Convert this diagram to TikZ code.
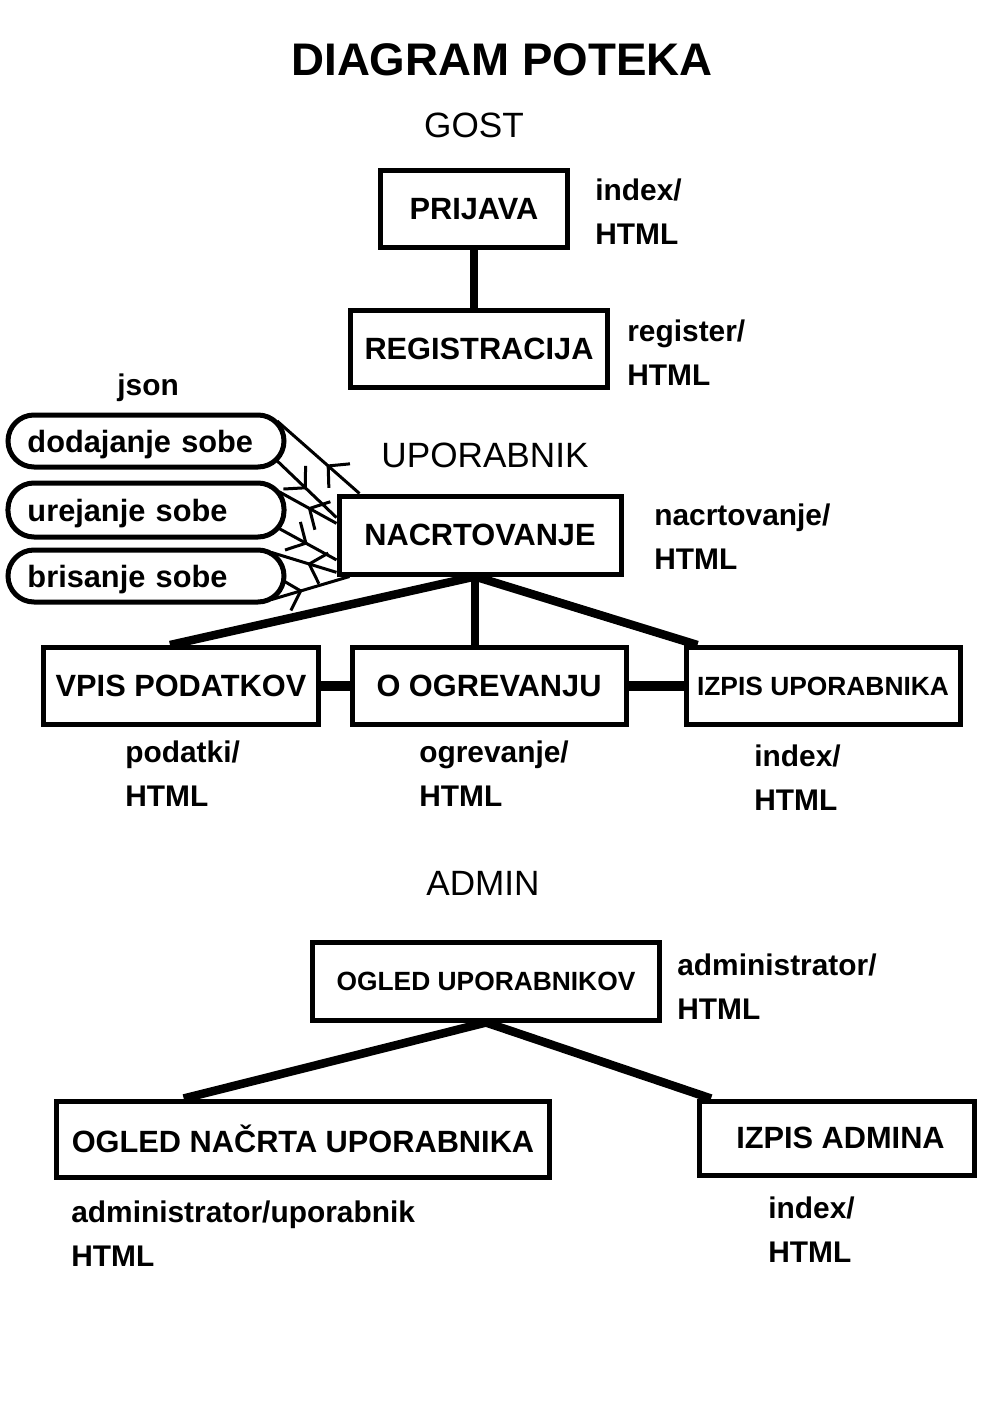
\documentclass[tikz,border=0pt]{standalone}
\usepackage{fontspec}
\setmainfont{Liberation Sans}
\usetikzlibrary{arrows.meta,calc,decorations.markings}

\begin{document}
\begin{tikzpicture}[
  x=0.2mm, y=-0.2mm,
  page/.style={font=\fontsize{26}{30}\selectfont\bfseries},
  role/.style={font=\fontsize{20}{24}\selectfont},
  screen/.style={draw, line width=1mm, minimum height=15.4mm, inner sep=0pt,
    font=\fontsize{17.5}{21}\selectfont\bfseries},
  smallscreen/.style={screen, font=\fontsize{15}{18}\selectfont\bfseries},
  action/.style={draw, line width=1mm, rounded corners=5.2mm, minimum height=10.4mm,
    inner xsep=3.9mm, inner ysep=0pt, text width=47.4mm, align=left, text depth=0pt,
    font=\fontsize{17.5}{21}\selectfont\bfseries},
  route/.style={anchor=north west, inner sep=0pt, align=left,
    font=\fontsize{17}{25.5}\selectfont\bfseries},
  link/.style={line width=1.7mm},
  bridge/.style={line width=2.1mm},
  call/.style={line width=0.6mm, postaction={decorate}, decoration={markings,
    mark=at position #1 with {\arrow{Straight Barb[length=3mm, width=6.4mm, line width=0.6mm]}}}}
]
\useasboundingbox (0,0) rectangle (1000,1417);

\node[page] (title) at (502,60) {DIAGRAM POTEKA};

% gost
\node[role] (gost) at (474,125) {GOST};
\node[screen, minimum width=37.4mm] (prijava) at (474,209) {PRIJAVA};
\node[screen, minimum width=51.4mm] (registracija) at (479,349) {REGISTRACIJA};
\node[route] (prijavaurl) at (595,178) {index/\\HTML};
\node[route] (registerurl) at (627,319) {register/\\HTML};
\draw[link] (prijava.south) -- (prijava.south |- registracija.north);

% uporabnik
\node[role] (uporabnik) at (485,455) {UPORABNIK};
\node[screen, minimum width=56.4mm, minimum height=15.6mm] (nacrt) at (480,535) {NACRTOVANJE};
\node[route] (nacrturl) at (654,503) {nacrtovanje/\\HTML};

\node[route] (json) at (117,373) {json};
\node[action, minimum height=10.4mm] (dodaj) at (146,441) {dodajanje sobe};
\node[action, minimum height=10.8mm] (uredi) at (146,510) {urejanje sobe};
\node[action, minimum height=10.4mm] (brisi) at (146,576) {brisanje sobe};

\draw[call=0.4] ([xshift=4.6mm]nacrt.north west) -- ($(dodaj.east)+(-5.2mm,0)+(50:5.2mm)$);
\draw[call=0.5] ($(dodaj.east)+(-5.2mm,0)+(-50:5.2mm)$) -- ($(nacrt.north west)!0.29!(nacrt.south west)$);
\draw[call=0.5] ($(nacrt.north west)!0.36!(nacrt.south west)$) -- ($(uredi.east)+(-5.2mm,0)+(45:5.2mm)$);
\draw[call=0.5] ($(uredi.east)+(-5.2mm,0)+(-45:5.2mm)$) -- ($(nacrt.north west)!0.8!(nacrt.south west)$);
\draw[call=0.45] ($(nacrt.north west)!0.95!(nacrt.south west)$) -- ($(brisi.east)+(-5.2mm,0)+(65:5.2mm)$);
\draw[call=0.4] ($(brisi.east)+(-5.2mm,0)+(-65:5.2mm)$) -- ([xshift=2.6mm]nacrt.south west);

\node[screen, minimum width=55mm] (vpis) at (181,686) {VPIS PODATKOV};
\node[screen, minimum width=54.8mm] (ogrevanje) at (489,686) {O OGREVANJU};
\node[smallscreen, minimum width=54.8mm] (izpisu) at (823,686) {IZPIS UPORABNIKA};
\node[route] (vpisurl) at (125,740) {podatki/\\HTML};
\node[route] (ogrevanjeurl) at (419,740) {ogrevanje/\\HTML};
\node[route] (izpisuurl) at (754,744) {index/\\HTML};

\draw[link] ([xshift=-1mm]nacrt.south) -- ([xshift=-2.2mm]vpis.north);
\draw[link] ([xshift=-1mm]nacrt.south) -- ([xshift=-1mm]nacrt.south |- ogrevanje.north);
\draw[link] ([xshift=-1mm]nacrt.south) -- ($(izpisu.north west)!0.05!(izpisu.north east)$);
\draw[bridge] (vpis.east) -- (ogrevanje.west);
\draw[bridge] (ogrevanje.east) -- (izpisu.west);

% admin
\node[role] (admin) at (483,883) {ADMIN};
\node[smallscreen, minimum width=69.4mm, minimum height=15.6mm] (ogled) at (486,981) {OGLED UPORABNIKOV};
\node[route] (ogledurl) at (677,953) {administrator/\\HTML};
\node[screen, minimum width=98.4mm, minimum height=15.2mm] (ogledn) at (303,1139) {OGLED NAČRTA UPORABNIKA};
\node[screen, minimum width=55mm, minimum height=14.8mm] (izpisa) at (837,1138) {\hspace*{1.4mm}IZPIS ADMINA};
\node[route] (oglednurl) at (71,1200) {administrator/uporabnik\\HTML};
\node[route] (izpisaurl) at (768,1196) {index/\\HTML};

\draw[link] (ogled.south) -- ($(ogledn.north west)!0.26!(ogledn.north east)$);
\draw[link] (ogled.south) -- ($(izpisa.north west)!0.05!(izpisa.north east)$);

\end{tikzpicture}
\end{document}
